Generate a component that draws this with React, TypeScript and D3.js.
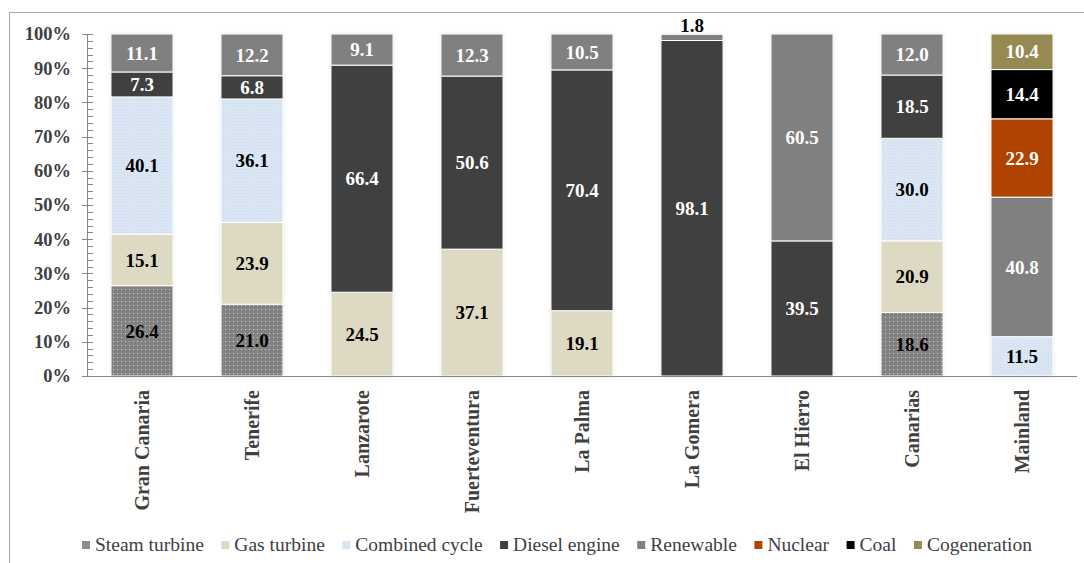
import React, { useEffect, useRef } from "react";
import * as d3 from "d3";

const categories = ["Gran Canaria", "Tenerife", "Lanzarote", "Fuerteventura", "La Palma", "La Gomera", "El Hierro", "Canarias", "Mainland"];
const seriesNames = ["Steam turbine", "Gas turbine", "Combined cycle", "Diesel engine", "Renewable", "Nuclear", "Coal", "Cogeneration"];

const steamTurbine = [26.4, 21.0, 0, 0, 0, 0, 0, 18.6, 0];
const gasTurbine = [15.1, 23.9, 24.5, 37.1, 19.1, 0, 0, 20.9, 0];
const combinedCycle = [40.1, 36.1, 0, 0, 0, 0, 0, 30.0, 11.5];
const dieselEngine = [7.3, 6.8, 66.4, 50.6, 70.4, 98.1, 39.5, 18.5, 0];
const renewable = [11.1, 12.2, 9.1, 12.3, 10.5, 1.8, 60.5, 12.0, 40.8];
const nuclear = [0, 0, 0, 0, 0, 0, 0, 0, 22.9];
const coal = [0, 0, 0, 0, 0, 0, 0, 0, 14.4];
const cogeneration = [0, 0, 0, 0, 0, 0, 0, 0, 10.4];

const yTicks = [0, 10, 20, 30, 40, 50, 60, 70, 80, 90, 100];

const seriesValues = [steamTurbine, gasTurbine, combinedCycle, dieselEngine, renewable, nuclear, coal, cogeneration];
const fills = ["url(#dots)", "#ddd9c3", "url(#cc)", "#404040", "#808080", "#b04300", "#000000", "#958b52"];
const legendFills = ["#8c8c8c", "#ddd9c3", "#d8e4f5", "#404040", "#808080", "#b04300", "#000000", "#958b52"];
const labelColors = ["#000", "#000", "#000", "#fff", "#fff", "#fff", "#fff", "#fff"];

const FONT = "'Times New Roman', 'Liberation Serif', serif";

export default function App() {
  const ref = useRef<SVGSVGElement>(null);

  useEffect(() => {
    const svg = d3.select(ref.current);
    svg.selectAll("*").remove();

    const W = 1084, H = 563;
    const x0 = 87, x1 = 1077, yTop = 34, yBot = 376;

    const defs = svg.append("defs");
    const dots = defs.append("pattern").attr("id", "dots").attr("width", 4).attr("height", 4).attr("patternUnits", "userSpaceOnUse");
    dots.append("rect").attr("width", 4).attr("height", 4).attr("fill", "#828282");
    dots.append("rect").attr("x", 1).attr("y", 1).attr("width", 1).attr("height", 1).attr("fill", "#d0d0d0");
    const cc = defs.append("pattern").attr("id", "cc").attr("width", 3).attr("height", 3).attr("patternUnits", "userSpaceOnUse");
    cc.append("rect").attr("width", 3).attr("height", 3).attr("fill", "#dbe6f5");
    cc.append("rect").attr("x", 1).attr("y", 1).attr("width", 1).attr("height", 1).attr("fill", "#cbdaf0");
    const f = defs.append("filter").attr("id", "shadow").attr("x", "-20%").attr("y", "-5%").attr("width", "140%").attr("height", "110%");
    f.append("feDropShadow").attr("dx", 0).attr("dy", 0).attr("stdDeviation", 1.5).attr("flood-color", "#000").attr("flood-opacity", 0.18);

    svg.append("rect").attr("width", W).attr("height", H).attr("fill", "#fff");
    svg.append("path").attr("d", `M9.5,${H}V12.5H${W}`).attr("fill", "none").attr("stroke", "#a6a6a6").attr("stroke-width", 1);

    const x = d3.scaleBand<string>().domain(categories).range([x0, x1]).paddingInner(0.436).paddingOuter(0.218);
    const y = d3.scaleLinear().domain([0, 100]).range([yBot, yTop]);

    const table = categories.map((c, i) => {
      const o: any = { category: c };
      seriesNames.forEach((s, j) => (o[s] = seriesValues[j][i]));
      return o;
    });
    const stacked = d3.stack<any>().keys(seriesNames)(table);

    const bars = svg.append("g");
    bars.selectAll("rect.sh").data(categories).join("rect")
      .attr("x", (c) => x(c)!).attr("width", x.bandwidth())
      .attr("y", (c, i) => y(d3.sum(seriesValues, (s) => s[i])))
      .attr("height", (c, i) => y(0) - y(d3.sum(seriesValues, (s) => s[i])))
      .attr("fill", "#fff").attr("filter", "url(#shadow)");

    stacked.forEach((layer, j) => {
      const g = bars.append("g");
      layer.forEach((d, i) => {
        const v = d[1] - d[0];
        if (v <= 0) return;
        const cat = categories[i];
        g.append("rect")
          .attr("x", x(cat)!).attr("width", x.bandwidth())
          .attr("y", y(d[1])).attr("height", y(d[0]) - y(d[1]))
          .attr("fill", fills[j]).attr("stroke", "#fff").attr("stroke-width", 1);
      });
    });

    stacked.forEach((layer, j) => {
      layer.forEach((d, i) => {
        const v = d[1] - d[0];
        if (v <= 0) return;
        const cat = categories[i];
        const cx = x(cat)! + x.bandwidth() / 2;
        const small = v < 4;
        const cy = small ? y(d[1]) - 9 : (y(d[0]) + y(d[1])) / 2;
        svg.append("text")
          .attr("x", cx).attr("y", cy).attr("dy", "0.35em")
          .attr("text-anchor", "middle")
          .attr("font-family", FONT)
          .attr("font-weight", "bold").attr("font-size", 19)
          .attr("fill", small ? "#000" : labelColors[j])
          .text(d3.format(".1f")(v));
      });
    });

    const ax = svg.append("g");
    ax.append("line").attr("x1", x0 + 0.5).attr("x2", x0 + 0.5).attr("y1", yTop).attr("y2", yBot).attr("stroke", "#868686");
    d3.range(0, 101, 2).forEach((t) => {
      const major = t % 10 === 0;
      ax.append("line")
        .attr("x1", major ? x0 - 5 : x0).attr("x2", x0 + 6)
        .attr("y1", Math.round(y(t)) + 0.5).attr("y2", Math.round(y(t)) + 0.5)
        .attr("stroke", "#868686");
    });
    yTicks.forEach((t) => {
      ax.append("text").attr("x", 71).attr("y", y(t)).attr("dy", "0.35em")
        .attr("text-anchor", "end")
        .attr("font-family", FONT)
        .attr("font-weight", "bold").attr("font-size", 18.5).attr("fill", "#404040")
        .text(`${t}%`);
    });
    svg.append("line").attr("x1", x0).attr("x2", x1).attr("y1", yBot + 0.5).attr("y2", yBot + 0.5).attr("stroke", "#868686");
    categories.forEach((c) => {
      const cx = x(c)! + x.bandwidth() / 2;
      svg.append("text")
        .attr("transform", `translate(${cx},390) rotate(-90)`)
        .attr("dy", "0.35em").attr("text-anchor", "end")
        .attr("font-family", FONT)
        .attr("font-weight", "bold").attr("font-size", 20).attr("fill", "#404040")
        .text(c);
    });

    const lg = svg.append("g");
    let lx = 82;
    seriesNames.forEach((s, j) => {
      lg.append("rect").attr("x", lx).attr("y", 541).attr("width", 8).attr("height", 8).attr("fill", legendFills[j]);
      const t = lg.append("text").attr("x", lx + 13).attr("y", 551)
        .attr("font-family", FONT)
        .attr("font-size", 19.5).attr("fill", "#404040").text(s);
      const w = (t.node() as SVGTextElement).getComputedTextLength();
      lx = lx + 13 + w + 17.5;
    });
  }, []);

  return (
    <svg ref={ref} width={1084} height={563} style={{ position: "absolute", left: 0, top: 0, display: "block" }} />
  );
}
